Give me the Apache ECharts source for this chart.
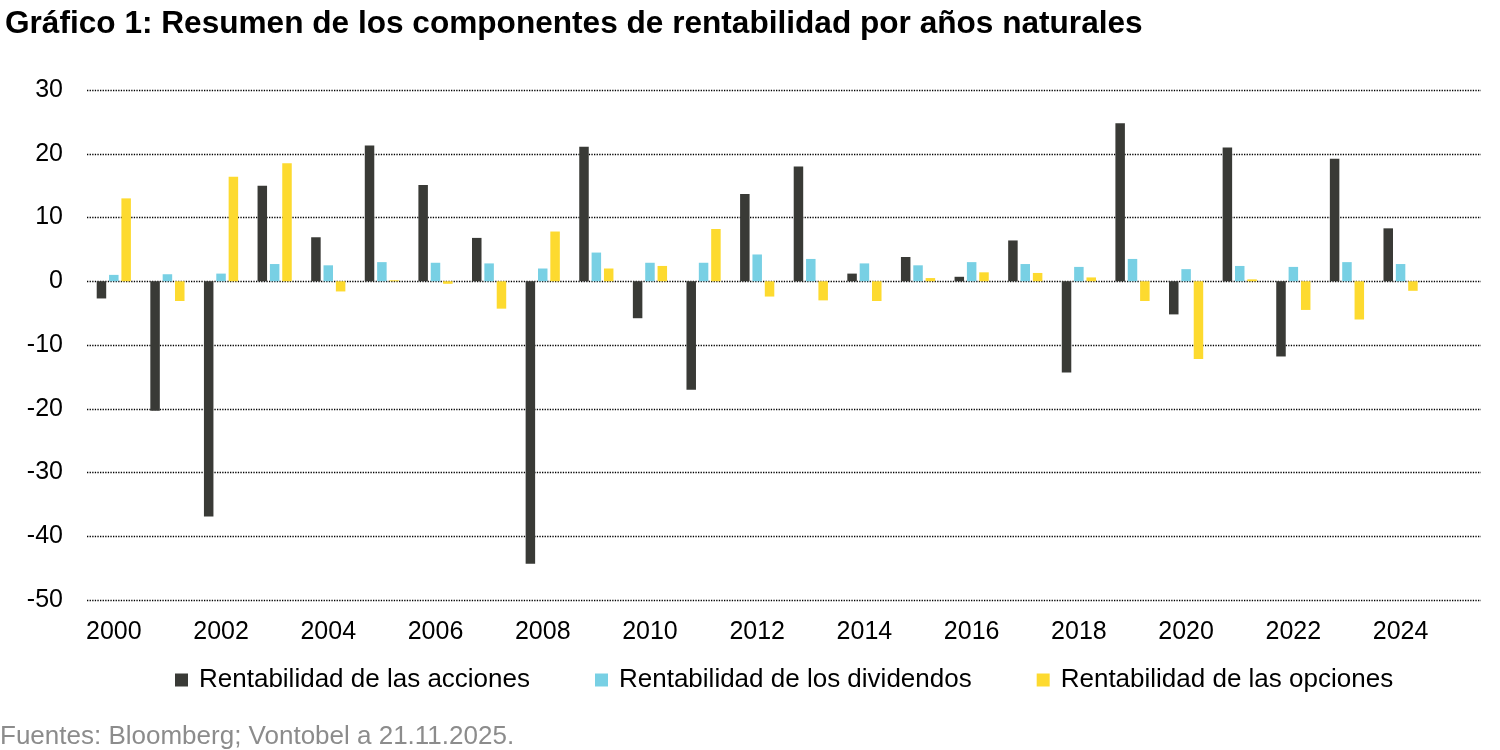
<!doctype html>
<html>
<head>
<meta charset="UTF-8">
<title>Gráfico 1</title>
<script src="https://cdn.jsdelivr.net/npm/echarts@6/dist/echarts.min.js"></script>
<style>
  html, body { margin: 0; padding: 0; background: #fff; }
  #main { width: 1500px; height: 750px; }
</style>
</head>
<body>
<div id="main"></div>
<script>
// años (2025 sin datos, sólo ocupa hueco al final del eje)
var years = ['2000','2001','2002','2003','2004','2005','2006','2007','2008','2009',
             '2010','2011','2012','2013','2014','2015','2016','2017','2018','2019',
             '2020','2021','2022','2023','2024','2025'];
var acciones = [-2.7, -20.3, -36.9, 15.0, 6.9, 21.3, 15.1, 6.8, -44.3, 21.1,
                -5.8, -17.0, 13.7, 18.0, 1.2, 3.8, 0.7, 6.4, -14.3, 24.8,
                -5.2, 21.0, -11.8, 19.2, 8.3, null];
var dividendos = [1.0, 1.1, 1.2, 2.7, 2.5, 3.0, 2.9, 2.8, 2.0, 4.5,
                  2.9, 2.9, 4.2, 3.5, 2.8, 2.5, 3.0, 2.7, 2.25, 3.5,
                  1.9, 2.4, 2.25, 3.0, 2.7, null];
var opciones = [13.0, -3.1, 16.4, 18.5, -1.6, 0.15, -0.4, -4.3, 7.8, 2.0,
                2.4, 8.2, -2.4, -3.0, -3.1, 0.5, 1.4, 1.3, 0.6, -3.1,
                -12.2, 0.3, -4.5, -6.0, -1.5, null];
var names = ['Rentabilidad de las acciones', 'Rentabilidad de los dividendos', 'Rentabilidad de las opciones'];
var colors = ['#393a36', '#78d0e4', '#fdda2f'];

var font = '"Liberation Sans", Arial, sans-serif';

function bar(i, d) {
  return {
    name: names[i],
    type: 'bar',
    barWidth: 9.5,
    barGap: '30%',
    itemStyle: { color: colors[i] },
    data: d
  };
}

var chart = echarts.init(document.getElementById('main'));
chart.setOption({
  animation: false,
  textStyle: { fontFamily: font },
  title: [{
    text: 'Gráfico 1: Resumen de los componentes de rentabilidad por años naturales',
    left: 0, top: 3,
    textStyle: { fontFamily: font, fontSize: 31.6, fontWeight: 'bold', color: '#000' }
  }, {
    text: 'Fuentes: Bloomberg; Vontobel a 21.11.2025.',
    left: -5, top: 719,
    textStyle: { fontFamily: font, fontSize: 26, fontWeight: 'normal', color: '#8c8c8c' }
  }],
  legend: {
    data: names,
    left: 170, top: 662,
    itemWidth: 13, itemHeight: 13,
    itemGap: 65,
    icon: 'rect',
    textStyle: { fontFamily: font, fontSize: 26, color: '#000', padding: [0, 0, 0, 6] }
  },
  grid: { left: 87, right: 19, top: 90, bottom: 150, containLabel: false },
  xAxis: {
    type: 'category',
    data: years,
    axisLine: { show: false },
    axisTick: { show: false },
    axisLabel: { interval: 1, fontSize: 25, color: '#000', margin: 20, fontFamily: font }
  },
  yAxis: {
    type: 'value',
    min: -50, max: 30, interval: 10,
    axisLine: { show: false },
    axisTick: { show: false },
    axisLabel: { fontSize: 25, color: '#000', margin: 24, fontFamily: font },
    splitLine: { lineStyle: { type: 'dotted', color: '#000', width: 1.3 } }
  },
  series: [bar(0, acciones), bar(1, dividendos), bar(2, opciones)]
});
</script>
</body>
</html>
